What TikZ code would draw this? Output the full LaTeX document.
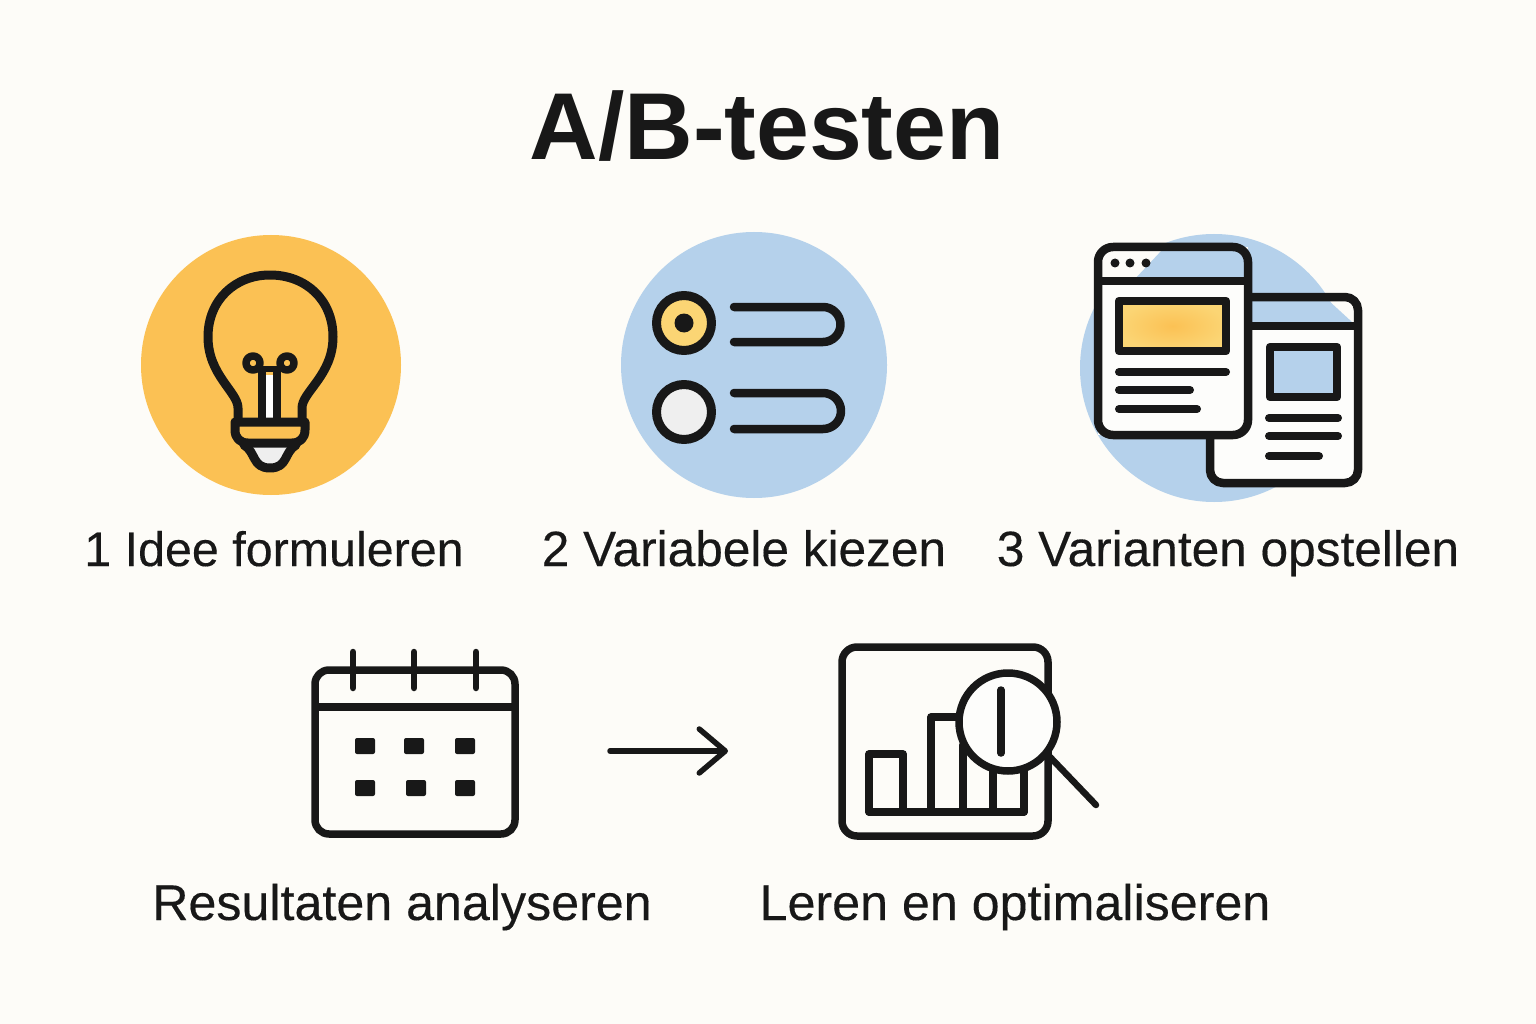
\documentclass[tikz,border=0pt]{standalone}
\usepackage{fontspec}
\setmainfont{Liberation Sans}
\newfontfamily\lblfont{Liberation Sans}[FakeBold=0.25]
\usetikzlibrary{arrows.meta}
\definecolor{bgc}{HTML}{FDFCF8}
\definecolor{ink}{HTML}{181818}
\definecolor{sun}{HTML}{FBC154}
\definecolor{sunpale}{HTML}{FBD574}
\definecolor{sky}{HTML}{B5D1EB}
\definecolor{paper}{HTML}{FDFDFB}
\definecolor{pearl}{HTML}{EFEFEF}
\tikzset{x=1pt,y=-1pt,
  ic/.style={draw=ink,line width=8.5pt,line join=round,line cap=round},
  lbl/.style={font=\lblfont\fontsize{49.6}{52}\selectfont,text=ink,anchor=base,inner sep=0pt},
  lblwide/.style={font=\lblfont\fontsize{50.2}{52}\selectfont,text=ink,anchor=base,inner sep=0pt},
  ttl/.style={font=\fontsize{95}{100}\selectfont\bfseries,text=ink,anchor=base,inner sep=0pt}
}
\begin{document}
\begin{tikzpicture}
\useasboundingbox (0,0) rectangle (1536,1024);
\fill[bgc] (0,0) rectangle (1536,1024);
\node[ttl] (title) at (767,160) {A/B-testen};
% step 1
\fill[sun] (271,365) circle (130);
\draw[ic,line width=9pt] (238,422) -- (238,408) .. controls (238,392) and (208,375) .. (208,337) .. controls (208,300) and (235,275) .. (270,275) .. controls (306,275) and (333,300) .. (333,337) .. controls (333,375) and (302,392) .. (302,408) -- (302,422);
\fill[white] (266,375) rectangle (273,420);
\draw[ic,line width=7.5pt,line cap=butt] (262,368) -- (262,422) (277,368) -- (277,422);
\draw[ic,line width=7.5pt] (253,363) circle (7) (287,363) circle (7);
\draw[ic,line width=6pt] (256,369) -- (284,369);
\draw[ic,fill=pearl,line width=9pt] (244,445) .. controls (256,452) and (252,468) .. (270,468) .. controls (288,468) and (284,452) .. (296,445);
\draw[ic,fill=sun,line width=9pt] (235,422) -- (305,422) -- (305,430) .. controls (305,438) and (300,443) .. (292,443) -- (248,443) .. controls (240,443) and (235,438) .. (235,430) -- cycle;
\node[lbl,font=\lblfont\fontsize{48.4}{52}\selectfont] (l1) at (274,566) {1 Idee formuleren};
% step 2
\fill[sky] (754,365) circle (133);
\draw[ic,line width=9pt,fill=sunpale] (684,323) circle (27.5);
\fill[ink] (684,323) circle (9.5);
\draw[ic,line width=9pt,fill=pearl] (684,412) circle (27.5);
\draw[ic] (734,307) -- (823,307) arc[start angle=-90,end angle=90,radius=17.5,y=-1pt] -- (734,342);
\draw[ic] (734,393) -- (823,393) arc[start angle=-90,end angle=90,radius=18,y=-1pt] -- (734,429);
\node[lbl] (l2) at (744,566) {2 Variabele kiezen};
% step 3
\fill[sky] (1214,368) circle (134);
\fill[sky] (1248,300) -- (1328,300) -- (1352,322) -- (1248,322) -- cycle;
\fill[paper] (1210,326) -- (1358,326) -- (1358,470) arc[start angle=0,end angle=90,radius=13,y=-1pt] -- (1223,483) arc[start angle=90,end angle=180,radius=13,y=-1pt] -- cycle;
\draw[ic,rounded corners=13pt] (1210,297) rectangle (1358,483);
\draw[ic,line cap=butt] (1210,326) -- (1358,326);
\draw[ic,fill=sky,line cap=butt] (1270,347) rectangle (1337,397);
\draw[ic,line width=8pt] (1269,418) -- (1338,418) (1269,436) -- (1338,436) (1269,456) -- (1319,456);
\fill[bgc] (1098,247) rectangle (1248,281);
\fill[paper] (1098,281) rectangle (1248,435);
\fill[sky] (1248,250) -- (1248,281) -- (1133,281) -- (1162,250) -- cycle;
\draw[ic,rounded corners=15pt] (1098,247) rectangle (1248,435);
\draw[ic,line cap=butt] (1098,281) -- (1248,281);
\fill[ink] (1115,263) circle (4.5) (1130,263) circle (4.5) (1146,263) circle (4.5);
\shade[inner color=sun,outer color=sunpale] (1119,301) rectangle (1226,351);
\draw[ic,line cap=butt] (1119,301) rectangle (1226,351);
\draw[ic,line width=8pt] (1119,372) -- (1226,372) (1119,390) -- (1190,390) (1119,409) -- (1197,409);
\node[lbl] (l3) at (1228,566) {3 Varianten opstellen};
% calendar
\draw[ic,line width=7.5pt,rounded corners=14pt] (315,670) rectangle (515,834);
\draw[ic,line width=7.5pt,line cap=butt] (315,707) -- (515,707);
\draw[ic,line width=6.5pt] (353,652) -- (353,688) (414,652) -- (414,688) (476,652) -- (476,688);
\foreach \px/\py in {365/746,414/746,465/746,365/788,416/788,465/788}
  \fill[ink,rounded corners=2pt] (\px-10,\py-8) rectangle (\px+10,\py+8);
\node[lblwide] (l4) at (402,920) {Resultaten analyseren};
% arrow
\coordinate (arrowtail) at (610,751);
\coordinate (arrowhead) at (728,751);
\draw[draw=ink,line width=5.5pt,line cap=round,line join=round,-{Straight Barb[length=26pt,width=44pt,round]}] (arrowtail) -- (arrowhead);
% chart
\draw[ic,line width=7.5pt,rounded corners=15pt] (842,647) rectangle (1048,836);
\draw[ic,line width=7.5pt] (869,812) -- (869,754) -- (903,754) -- (903,812);
\draw[ic,line width=7.5pt] (931,812) -- (931,717) -- (965,717);
\draw[ic,line width=7.5pt] (963,812) -- (963,745) (993,812) -- (993,765) (1024,812) -- (1024,765);
\draw[ic,line width=7.5pt] (869,812) -- (1024,812);
\draw[ic,line width=6.5pt] (1050,757) -- (1096,805);
\draw[ic,line width=7.5pt,fill=paper] (1008,722) circle (49);
\draw[ic,line width=7.5pt] (1001,690) -- (1001,753);
\node[lblwide] (l5) at (1015,920) {Leren en optimaliseren};
\end{tikzpicture}
\end{document}
